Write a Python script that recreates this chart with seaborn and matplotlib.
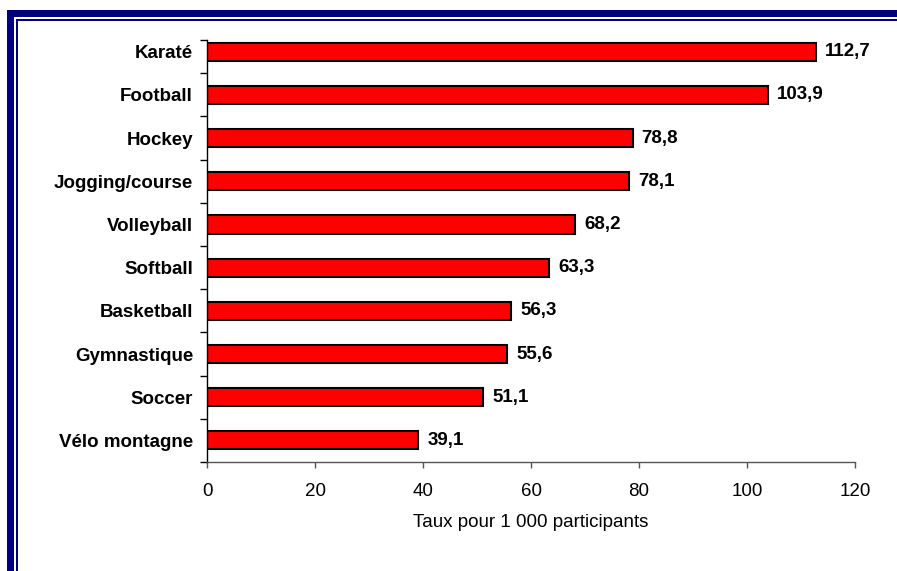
import matplotlib
matplotlib.use("Agg")
import matplotlib.pyplot as plt
import seaborn as sns
import pandas as pd
from matplotlib.patches import Rectangle
from matplotlib.ticker import FixedLocator

sports = ["Karaté", "Football", "Hockey", "Jogging/course", "Volleyball",
          "Softball", "Basketball", "Gymnastique", "Soccer", "Vélo montagne"]
rates = [112.7, 103.9, 78.8, 78.1, 68.2, 63.3, 56.3, 55.6, 51.1, 39.1]
rate_labels = ["112,7", "103,9", "78,8", "78,1", "68,2", "63,3", "56,3", "55,6", "51,1", "39,1"]
xticks = [0, 20, 40, 60, 80, 100, 120]
xlabel = "Taux pour 1 000 participants"

df = pd.DataFrame({"sport": sports, "rate": rates})

sns.set_theme(style="white")
plt.rcParams['font.family'] = ['Liberation Sans', 'DejaVu Sans']
plt.rcParams['text.color'] = 'black'
plt.rcParams['axes.labelcolor'] = 'black'
plt.rcParams['xtick.color'] = 'black'
plt.rcParams['ytick.color'] = 'black'

fig = plt.figure(figsize=(8.97, 5.71), dpi=100)
ax = fig.add_axes([207/897, 1 - 462/571, (855-207)/897, (462-40)/571])

sns.barplot(data=df, x="rate", y="sport", orient="h", color="#FF0000",
            edgecolor="black", linewidth=1.5, width=0.42, saturation=1, ax=ax)

for i, (v, lab) in enumerate(zip(rates, rate_labels)):
    ax.text(v + 1.7, i, lab, va="center", ha="left", fontsize=13.5,
            fontweight="bold", color="black")

ax.set_xlim(0, 120)
ax.set_xticks(xticks)
ax.set_xticklabels([str(t) for t in xticks], fontsize=13.5)
y_top = -0.27
ax.set_ylim(len(sports) - 0.5, y_top)
ax.set_ylabel("")
ax.set_xlabel(xlabel, fontsize=13.5, labelpad=10)
for lab in ax.get_yticklabels():
    lab.set_fontweight("bold")
    lab.set_fontsize(13.5)
ax.yaxis.set_minor_locator(FixedLocator([y_top] + [i + 0.5 for i in range(len(sports))]))
ax.tick_params(axis="y", which="major", left=False, length=0, pad=10)
ax.tick_params(axis="y", which="minor", left=True, direction="out", length=5,
               width=1, color="black")
ax.tick_params(axis="x", bottom=True, direction="out", length=4, width=1,
               color="#555555", labelcolor="black", pad=11)

for s in ["top", "right"]:
    ax.spines[s].set_visible(False)
ax.spines["left"].set_color("black")
ax.spines["left"].set_linewidth(1)
ax.spines["bottom"].set_color("#555555")
ax.spines["bottom"].set_linewidth(1)

# frame (outer thick navy, inner thin navy)
navy = "#000080"
W, H = 897, 571
fig.patches.append(Rectangle((7/W, 0), 7/W, 1 - 10/H, transform=fig.transFigure,
                             facecolor=navy, edgecolor="none"))
fig.patches.append(Rectangle((7/W, 1 - 17/H), 1, 7/H, transform=fig.transFigure,
                             facecolor=navy, edgecolor="none"))
fig.patches.append(Rectangle((16/W, 0), 2/W, 1 - 19/H, transform=fig.transFigure,
                             facecolor=navy, edgecolor="none"))
fig.patches.append(Rectangle((16/W, 1 - 21/H), 1, 2/H, transform=fig.transFigure,
                             facecolor=navy, edgecolor="none"))

fig.savefig("out.png", dpi=100)
